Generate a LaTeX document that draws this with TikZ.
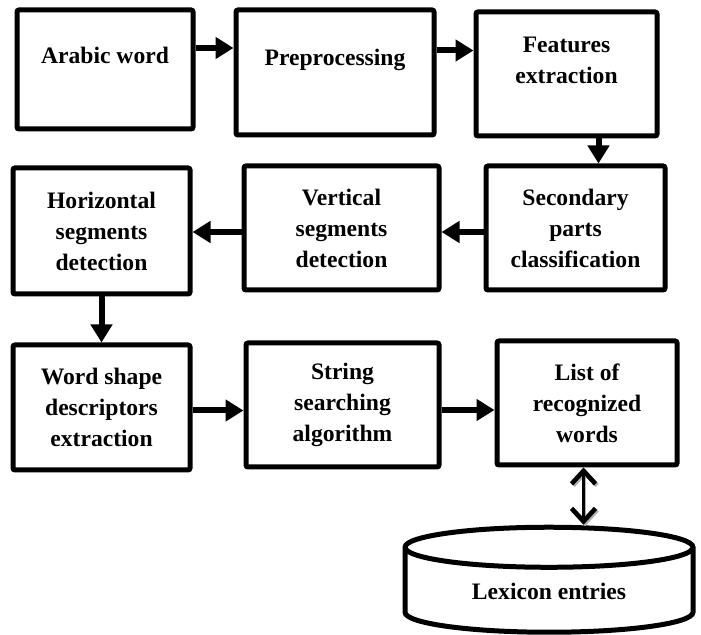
\documentclass[tikz,border=0pt]{standalone}
\usepackage{fontspec}
\setmainfont{Liberation Serif}
\usetikzlibrary{arrows.meta, shapes.geometric, positioning}

\begin{document}
\begin{tikzpicture}[x=0.5pt, y=-0.5pt,
  every node/.style={font=\fontsize{11.8}{15.5}\selectfont\bfseries},
  stagebox/.style={draw, line width=2.5pt, rounded corners=1pt, align=center, inner sep=0pt},
  flowarrow/.style={-{Triangle[length=9pt, width=10.5pt]}, line width=3pt},
  lookup/.style={{Straight Barb[length=6.5pt, width=12pt, line width=2.3pt]}-{Straight Barb[length=6.5pt, width=12pt, line width=2.3pt]}, line width=1.6pt,
    preaction={draw=black!30, transform canvas={shift={(0.8pt,-0.8pt)}}}}]
\useasboundingbox (0,0) rectangle (701,635);

% ── Row 1: input and preprocessing ──────────────────────────────
\node[stagebox, minimum width=88pt, minimum height=59.5pt,
  label={[yshift=7.25pt]center:Arabic word}] (arabic) at (105,69.5) {};
\node[stagebox, minimum width=99pt, minimum height=62.5pt,
  label={[yshift=6.25pt]center:Preprocessing}] (prep) at (335,72.5) {};
\node[stagebox, minimum width=90.5pt, minimum height=62pt,
  label={[yshift=7pt, align=center]center:Features\\extraction}] (feat) at (566.5,74) {};

\draw[flowarrow] ([yshift=10.75pt]arabic.east) -- ([yshift=10.75pt]arabic.east -| prep.west);
\draw[flowarrow] ([yshift=11pt]prep.east) -- ([yshift=11pt]prep.east -| feat.west);

% ── Row 2: segments (right to left) ─────────────────────────────
\node[stagebox, minimum width=88.5pt, minimum height=63pt] (horiz) at (101.5,231)
{Horizontal\\segments\\detection};
\node[stagebox, minimum width=97.5pt, minimum height=62pt] (vert) at (341.5,228)
{Vertical\\segments\\detection};
\node[stagebox, minimum width=89.5pt, minimum height=62pt] (second) at (575.5,228)
{Secondary\\parts\\classification};

\draw[flowarrow] ([xshift=16pt]feat.south) -- ([xshift=16pt]feat.south |- second.north);
\draw[flowarrow] ([yshift=-2pt]second.west) -- ([yshift=-2pt]second.west -| vert.east);
\draw[flowarrow] ([yshift=-2pt]vert.west) -- ([yshift=-2pt]vert.west -| horiz.east);

% ── Row 3: descriptors and search ───────────────────────────────
\node[stagebox, minimum width=88.5pt, minimum height=62.5pt] (shape) at (101.5,407.5)
{Word shape\\descriptors\\extraction};
\node[stagebox, minimum width=96.5pt, minimum height=62pt] (search) at (342.5,405)
{String\\searching\\algorithm};
\node[stagebox, minimum width=90pt, minimum height=62pt] (list) at (587,403)
{List of\\recognized\\words};

\draw[flowarrow] (horiz.south) -- (horiz.south |- shape.north);
\draw[flowarrow] ([yshift=-1.5pt]shape.east) -- ([yshift=-1.5pt]shape.east -| search.west);
\draw[flowarrow] ([yshift=-2.5pt]search.east) -- ([yshift=-2.5pt]search.east -| list.west);

% ── Lexicon store ───────────────────────────────────────────────
\node[draw, line width=2.5pt, shape=cylinder, shape border rotate=90, aspect=0.26,
  minimum width=144pt, minimum height=52.5pt, inner sep=0pt] (lex) at (549,591)
{Lexicon entries};

\draw[lookup] ([xshift=-1.75pt]list.south) -- ([xshift=-1.75pt]list.south |- lex.north);

\end{tikzpicture}
\end{document}
